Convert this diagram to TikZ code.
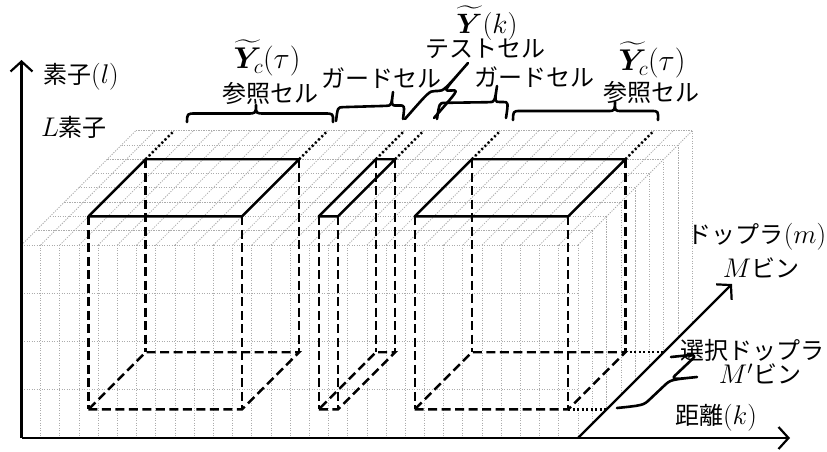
\RequirePackage{fix-cm}
\documentclass[tikz,border=0pt]{standalone}
\usepackage{amsmath,bm}
\usepackage{fontspec}
\newfontfamily\jp{Noto Sans CJK JP}
\usetikzlibrary{calc,arrows.meta}
\newcommand\jpl{\fontsize{24}{26}\selectfont\jp}
\newcommand\mathl{\fontsize{30}{33}\selectfont}
\newcommand\mm[1]{{\fontsize{27}{30}\selectfont$#1$}}
\newcommand\mybrace[3]{%
  \pgfmathsetmacro\brA{#3}%
  \pgfmathsetmacro\brB{#2-#3}%
  \pgfmathsetmacro\brC{#2+#3}%
  \pgfmathsetmacro\brD{1-#3}%
  \coordinate (#1m) at ($(#1a)!#2!(#1b)$);
  \coordinate (#1v) at ($0.5*(#1t)-0.5*(#1m)$);
  \coordinate (#1h) at ($(#1m)!0.5!(#1t)$);
  \draw[bracel] (#1a) .. controls ($(#1a)+(#1v)$) .. ($(#1a)!\brA!(#1b)+(#1v)$)
    -- ($(#1a)!\brB!(#1b)+(#1v)$) .. controls (#1h) .. (#1t)
    .. controls (#1h) .. ($(#1a)!\brC!(#1b)+(#1v)$)
    -- ($(#1a)!\brD!(#1b)+(#1v)$) .. controls ($(#1b)+(#1v)$) .. (#1b);
}
\def\xo{21.5}\def\xr{578}\def\yt{245}\def\yb{438}\def\dd{14.3}\def\cw{19.19}\def\rh{48.25}
\newcommand\cellbox[3]{%
  \pgfmathsetmacro\cxa{\xo+#2*\cw}%
  \pgfmathsetmacro\cxb{\xo+#3*\cw}%
  \coordinate (#1fl) at ({\cxa+2*\dd},{\yt-2*\dd});
  \coordinate (#1fr) at ({\cxb+2*\dd},{\yt-2*\dd});
  \coordinate (#1bl) at ({\cxa+6*\dd},{\yt-6*\dd});
  \coordinate (#1br) at ({\cxb+6*\dd},{\yt-6*\dd});
  \coordinate (#1flb) at ({\cxa+2*\dd},{\yb-2*\dd});
  \coordinate (#1frb) at ({\cxb+2*\dd},{\yb-2*\dd});
  \coordinate (#1blb) at ({\cxa+6*\dd},{\yb-6*\dd});
  \coordinate (#1brb) at ({\cxb+6*\dd},{\yb-6*\dd});
  \coordinate (#1blx) at ({\cxa+8*\dd},{\yt-8*\dd});
  \coordinate (#1brx) at ({\cxb+8*\dd},{\yt-8*\dd});
  \draw[boxdash] (#1fl) -- (#1flb) (#1fr) -- (#1frb) (#1bl) -- (#1blb) (#1br) -- (#1brb);
  \draw[boxdash] (#1flb) -- (#1frb) -- (#1brb) -- (#1blb) -- cycle;
  \draw[boxsolid] (#1fl) -- (#1fr) -- (#1br) -- (#1bl) -- cycle;
  \draw[extdot] (#1bl) -- (#1blx) (#1br) -- (#1brx);
}
\begin{document}
\begin{tikzpicture}[x=1pt,y=-1pt,
  gridl/.style={draw=gray!65, line width=0.8pt, dash pattern=on 1.2pt off 1.3pt},
  boxsolid/.style={line width=2.4pt, line cap=round, line join=round},
  boxdash/.style={line width=2.4pt, dash pattern=on 9pt off 4.5pt},
  extdot/.style={line width=2.4pt, dash pattern=on 2pt off 2.5pt},
  axisl/.style={line width=2.2pt, -{Straight Barb[length=10pt,width=22pt,line width=2.2pt]}},
  bracel/.style={line width=2.6pt, line cap=round, line join=round},
  lab/.style={inner sep=0pt, font=\jpl},
  mlab/.style={inner sep=0pt, font=\mathl}]
\useasboundingbox (0,0) rectangle (827,452);
% grid
\foreach \i in {1,...,29} \draw[gridl] ({\xo+\i*\cw},\yt) -- ({\xo+\i*\cw},\yb);
\foreach \j in {1,2,3} \draw[gridl] (\xo,{\yt+\j*\rh}) -- (\xr,{\yt+\j*\rh});
\foreach \d in {0,...,8} \draw[gridl] ({\xo+\d*\dd},{\yt-\d*\dd}) -- ({\xr+\d*\dd},{\yt-\d*\dd});
\foreach \i in {0,...,29} \draw[gridl] ({\xo+\i*\cw},\yt) -- ({\xo+\i*\cw+8*\dd},{\yt-8*\dd});
\foreach \d in {1,...,8} \draw[gridl] ({\xr+\d*\dd},{\yt-\d*\dd}) -- ({\xr+\d*\dd},{\yb-\d*\dd});
% boxes
\cellbox{ra}{2}{10}
\cellbox{tc}{14}{15}
\cellbox{rb}{19}{27}
% axes
\coordinate (O) at (\xo,\yb);
\coordinate (Vt) at (\xo,60);
\coordinate (Ht) at (790,\yb);
\coordinate (D0) at (\xr,\yb);
\coordinate (Dt) at (732,284);
\coordinate (Dm2) at ({\xr+2*\dd},{\yb-2*\dd});
\coordinate (Dm6) at ({\xr+6*\dd},{\yb-6*\dd});
\draw[extdot] (rbfrb) -- (Dm2) (rbbrb) -- (Dm6);
\draw[axisl] (O) -- (Vt);
\draw[axisl] (O) -- (Ht);
\draw[axisl] (D0) -- (Dt);
% braces
\coordinate (b1a) at (187,122); \coordinate (b1b) at (333,122); \coordinate (b1t) at (256,105);
\mybrace{b1}{0.47}{0.06}
\coordinate (b2a) at (336,121); \coordinate (b2b) at (403,119); \coordinate (b2t) at (393,92);
\mybrace{b2}{0.8}{0.08}
\coordinate (b3a) at (405,119); \coordinate (b3b) at (434,118); \coordinate (b3t) at (468,63);
\mybrace{b3}{0.5}{0.2}
\coordinate (b4a) at (437,119); \coordinate (b4b) at (506,118); \coordinate (b4t) at (497,86);
\mybrace{b4}{0.8}{0.08}
\coordinate (b5a) at (513,120); \coordinate (b5b) at (658,120); \coordinate (b5t) at (615,102);
\mybrace{b5}{0.7}{0.05}
\coordinate (b6a) at (617,408); \coordinate (b6b) at (671,357); \coordinate (b6t) at (697,377);
\mybrace{b6}{0.5}{0.12}
% labels
\node[mlab] (yc1) at (267,58) {$\widetilde{\bm{Y}}_c(\tau)$};
\node[lab] (r1) at (270,93) {参照セル};
\node[lab] (g1) at (381,78) {ガードセル};
\node[mlab, font=\fontsize{28}{30}\selectfont] (yk) at (487,23) {$\widetilde{\bm{Y}}(k)$};
\node[lab] (t1) at (485,49) {テストセル};
\node[lab] (g2) at (534,77) {ガードセル};
\node[mlab] (yc2) at (652,60) {$\widetilde{\bm{Y}}_c(\tau)$};
\node[lab] (r2) at (651,92) {参照セル};
\node[lab] (el) at (81,77) {素子\mm{(l)}};
\node[lab] (Le) at (74,127) {\mm{L}素子};
\node[lab] (dop) at (757,237) {ドップラ\mm{(m)}};
\node[lab] (Mb) at (761,268) {\mm{M}ビン};
\node[lab] (sel) at (752,350) {選択ドップラ};
\node[lab] (Mpb) at (760,374) {\mm{M'}ビン};
\node[lab] (dist) at (716,418) {距離\mm{(k)}};
\end{tikzpicture}
\end{document}
